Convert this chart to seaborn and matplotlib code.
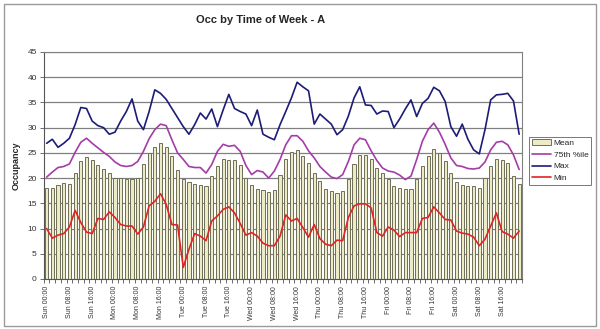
import matplotlib
matplotlib.use("Agg")
import matplotlib.pyplot as plt
import seaborn as sns
import pandas as pd
from matplotlib.patches import Rectangle, FancyBboxPatch

days = ["Sun", "Mon", "Tue", "Wed", "Thu", "Fri", "Sat"]
hours = ["00:00", "02:00", "04:00", "06:00", "08:00", "10:00",
         "12:00", "14:00", "16:00", "18:00", "20:00", "22:00"]
labels = [f"{d} {h}" for d in days for h in hours]

mean = [18.0, 18.1, 18.7, 19.1, 18.9, 21.1, 23.3, 24.1, 23.5, 22.6, 21.9, 21.1,
        20.0, 20.0, 19.8, 19.9, 20.0, 22.7, 24.9, 26.2, 27.0, 26.2, 24.4, 21.6,
        19.8, 19.3, 18.9, 18.6, 18.4, 20.5, 22.4, 23.8, 23.6, 23.6, 22.5, 20.0,
        18.6, 17.8, 17.7, 17.2, 17.6, 20.7, 23.8, 25.2, 25.5, 24.4, 23.0, 21.1,
        19.5, 17.8, 17.4, 17.0, 17.4, 19.8, 22.8, 24.5, 24.5, 23.8, 22.1, 21.1,
        19.8, 18.4, 18.0, 17.9, 17.9, 19.9, 22.4, 24.4, 25.7, 24.9, 23.3, 21.1,
        19.3, 18.7, 18.5, 18.4, 18.0, 20.0, 22.4, 23.8, 23.5, 22.9, 20.5, 18.9]

p75 = [20.2, 21.2, 22.1, 22.3, 22.8, 25.1, 27.1, 27.9, 26.9, 26.0, 25.1, 24.3,
       23.2, 22.5, 22.3, 22.5, 23.3, 25.3, 27.8, 29.6, 30.7, 30.4, 27.6, 25.0,
       23.7, 22.3, 22.1, 22.1, 21.0, 22.7, 25.3, 26.7, 26.3, 26.5, 25.3, 22.5,
       20.7, 21.5, 21.2, 20.0, 21.4, 23.7, 26.6, 28.4, 28.4, 27.3, 25.4, 24.0,
       22.3, 21.2, 20.2, 19.9, 20.7, 23.3, 26.6, 27.9, 27.6, 25.4, 23.5, 22.0,
       21.4, 21.2, 20.6, 19.7, 20.4, 23.7, 27.3, 29.6, 30.9, 29.1, 26.7, 24.0,
       22.5, 22.3, 21.9, 21.8, 22.0, 23.2, 25.6, 27.1, 27.3, 26.6, 24.6, 21.7]

maxv = [26.9, 27.7, 26.1, 26.9, 27.9, 30.6, 34.0, 33.8, 31.3, 30.4, 30.0, 28.7,
        29.1, 31.3, 33.2, 35.7, 31.3, 29.6, 33.2, 37.5, 36.8, 35.6, 33.8, 32.0,
        30.2, 28.7, 30.6, 32.9, 31.7, 33.7, 30.2, 33.5, 36.6, 33.8, 33.2, 32.7,
        30.4, 33.5, 28.7, 28.1, 27.6, 30.6, 33.2, 35.9, 39.0, 38.1, 37.3, 30.7,
        32.7, 31.7, 30.7, 28.6, 29.6, 32.3, 35.9, 38.1, 34.5, 34.4, 32.7, 33.3,
        33.2, 30.0, 31.7, 33.7, 35.5, 32.2, 34.8, 35.8, 38.0, 37.3, 35.2, 30.2,
        28.3, 30.7, 27.7, 25.6, 24.8, 29.6, 35.5, 36.5, 36.6, 36.8, 35.3, 28.7]

minv = [10.0, 8.1, 8.7, 9.0, 10.3, 13.6, 11.2, 9.3, 9.0, 12.0, 11.8, 13.3,
        12.2, 10.8, 10.5, 10.5, 8.9, 10.3, 14.5, 15.4, 16.9, 14.8, 10.8, 10.7,
        2.3, 5.9, 9.0, 8.5, 7.6, 11.5, 12.5, 13.8, 14.3, 13.1, 11.0, 8.7,
        9.2, 8.5, 7.1, 6.6, 6.6, 8.5, 12.7, 11.5, 12.0, 10.2, 8.3, 10.8,
        8.0, 6.9, 6.6, 7.7, 7.6, 12.2, 14.5, 14.9, 14.9, 14.1, 9.2, 8.5,
        10.3, 9.7, 8.4, 9.2, 9.2, 9.2, 12.0, 12.2, 14.3, 13.1, 11.8, 11.7,
        9.5, 9.1, 8.9, 8.3, 6.6, 7.9, 10.5, 13.1, 9.4, 8.9, 8.1, 9.5]

df = pd.DataFrame({"time": labels, "pos": range(len(labels)), "Mean": mean,
                   "75th %ile": p75, "Max": maxv, "Min": minv})

sns.set_style("white")
plt.rcParams["font.family"] = ["Liberation Sans", "DejaVu Sans"]

fig = plt.figure(figsize=(6.0, 3.29), dpi=100)
fig.patch.set_facecolor("white")
fig.add_artist(Rectangle((0.006, 0.01), 0.988, 0.978, transform=fig.transFigure,
                         fill=False, edgecolor="#9a9a9a", linewidth=1.0))
ax = fig.add_axes([0.073, 0.152, 0.797, 0.690])

sns.barplot(data=df, x="time", y="Mean", ax=ax, color="#ecebc6", width=0.55,
            edgecolor="#6e6e58", linewidth=0.7, label="Mean", saturation=1, zorder=2)
sns.lineplot(x=df["pos"], y=df["75th %ile"], ax=ax, color="#a43ca8", linewidth=1.2,
             label="75th %ile", zorder=3)
sns.lineplot(x=df["pos"], y=df["Max"], ax=ax, color="#1c1c78", linewidth=1.2,
             label="Max", zorder=3)
sns.lineplot(x=df["pos"], y=df["Min"], ax=ax, color="#e02424", linewidth=1.2,
             label="Min", zorder=3)

ax.set_xlim(-0.5, len(labels) - 0.5)
ax.set_ylim(0, 45)
ax.set_yticks(range(0, 50, 5))
ax.yaxis.grid(True, color="#808080", linewidth=0.9, zorder=0)
ax.set_axisbelow(True)
ax.set_xticks(range(0, len(labels), 4))
ax.set_xticklabels([labels[i] for i in range(0, len(labels), 4)], rotation=90,
                   fontsize=5, color="#333333")
ax.set_xticks([i + 0.5 for i in range(-1, len(labels))], minor=True)
ax.tick_params(axis="x", which="major", length=0, pad=5)
ax.tick_params(axis="x", which="minor", length=3, width=0.6, color="#555555", bottom=True)
ax.tick_params(axis="y", length=3, width=0.6, color="#555555", labelsize=6,
               labelcolor="#333333", left=True, pad=2)
ax.set_xlabel("")
ax.set_ylabel("Occupancy", fontsize=6.5, fontweight="bold", labelpad=5)
for s in ["left", "bottom"]:
    ax.spines[s].set_color("#555555")
    ax.spines[s].set_linewidth(0.8)
for s in ["top", "right"]:
    ax.spines[s].set_color("#808080")
    ax.spines[s].set_linewidth(0.8)

fig.text(0.435, 0.938, "Occ by Time of Week - A", ha="center", va="center",
         fontsize=8, fontweight="bold")

h, l = ax.get_legend_handles_labels()
order = ["Mean", "75th %ile", "Max", "Min"]
hl = {lab: hh for hh, lab in zip(h, l)}
leg = ax.legend([hl[o] for o in order], order, loc="upper left",
                bbox_to_anchor=(0.882, 0.585), bbox_transform=fig.transFigure,
                fontsize=6, frameon=True, fancybox=False, edgecolor="#555555",
                handlelength=2.3, handletextpad=0.3, borderpad=0.35,
                labelspacing=0.45, borderaxespad=0)
leg.get_frame().set_linewidth(0.7)

fig.savefig("out.png", dpi=100)
